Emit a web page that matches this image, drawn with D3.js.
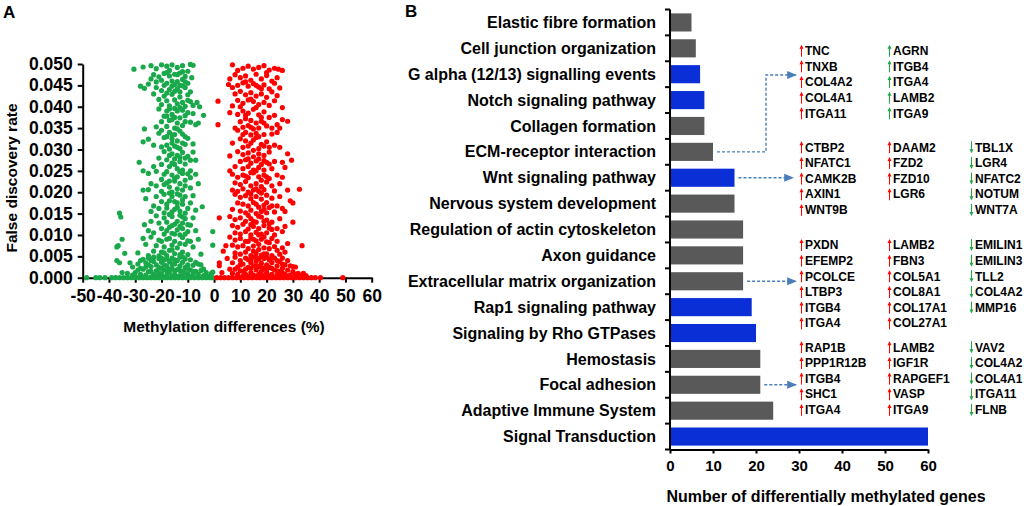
<!DOCTYPE html>
<html>
<head>
<meta charset="utf-8">
<script src="https://cdn.jsdelivr.net/npm/d3@7"></script>
<style>
body{margin:0;background:#fff;}
text{font-family:Arial,"Liberation Sans",sans-serif;font-weight:bold;fill:#000;}
</style>
</head>
<body>
<div id="chart"></div>
<script>
// ---- panel A data: [methylation difference %, FDR x 10^-3] ----
var greenPts = [
[-30.5,48.8],[-28,44.8],[-26.5,44.3],[-27,49.3],[-24,49.6],[-22,48.9],[-20,49.8],[-18,49.5],[-16,49.8],[-14,49.2],[-12,49.6],[-9,49.9],[-8,49.7],
[-23,47.5],[-21,47],[-19,47.8],[-17,47.2],[-15,47.6],[-13,47.9],[-11,47.1],[-10,48.3],[-22,45.8],[-20,46.2],[-18,45.5],[-16,46],[-14,45.9],
[-12,46.4],[-10,45.5],[-8.5,46.8],[-24,46.5],[-19,45],[-15,45.2],[-13,45],[-17,48.5],[-11,45.8],[-25,45.3],
[-22,44.5],[-20,43.8],[-17,44],[-14,44.2],[-11,44.5],[-9,43.5],[-19,42.5],[-16,42.9],[-13,42.3],[-10,42.8],[-21,41.7],[-18,41.4],[-15,41.6],
[-12,41],[-9,41.2],[-20,40.5],[-17,40.2],[-14,40.7],[-11,40.1],[-8,40.3],[-6.5,41],[-5.5,40],[-23,43],[-15,43.6],[-12,44.9],
[-21,39.5],[-18,39],[-15,39.6],[-12,39.2],[-10,38.6],[-19,37.8],[-16,38.2],[-13,37.4],[-11,37.9],[-8,38.4],[-4,38],[-20,36.5],[-17,36.8],
[-14,36.2],[-12,35.6],[-9,36.4],[-7,35.8],[-26.5,34.8],[-22,35.3],[-18,35.4],[-15,35],[-6,36.2],[-16,37],[-13,39.8],
[-20,34.5],[-17,34],[-15,33.5],[-13,34.3],[-11,33],[-19,32.8],[-16,32.5],[-14,32],[-12,31.5],[-10,32.6],[-18,31],[-15,30.8],[-13,30.2],
[-21,33.8],[-27,31.8],[-25,32.4],[-23,31],[-8,31.3],[-17,30.1],[-20,30.6],
[-19,29.5],[-16,29],[-14,28.6],[-12,29.3],[-10,28.4],[-18,27.6],[-15,27.8],[-13,27.2],[-11,26.6],[-9,27.5],[-7,27.5],[-21,28],[-28.5,27],
[-17,26],[-14,25.5],[-12,25.2],[-16,26.8],[-23,26],[-9,25],[-8,29.4],[-20,26.5],
[-27,25],[-25,24.4],[-22,24.9],[-19,24.2],[-16,24],[-14,23.6],[-12,24.4],[-10,24.3],[-7,24.2],[-20,23],[-18,22.2],[-15,22.6],[-13,22],
[-11,22.8],[-24,22],[-22,21.5],[-17,21.2],[-14,20.8],[-12,20.5],[-9,21],[-27,20.5],[-25,20.6],[-20,20.2],[-16,20],[-6,22],[-9,23.4],
[-26,18.5],[-22,19],[-19,19.5],[-16,19],[-13,19.3],[-11,19],[-8,19.2],[-20,17.8],[-17,18],[-14,17.5],[-12,17.2],[-9,17.5],[-23,16.8],
[-21,16.2],[-18,16.3],[-15,16],[-13,15.6],[-10,16.2],[-7,15.8],[-4.5,16.6],[-24,15.5],[-19,15.2],[-16,15.4],[-36,15.1],[-35.5,14.2],[-11,15.1],
[-22,14.5],[-19,14],[-16,14.3],[-13,14.6],[-11,13.8],[-8,14],[-24,13.2],[-21,12.8],[-18,13],[-15,12.5],[-12,12.8],[-9,12.3],[-26.5,12.4],
[-20,11.5],[-17,11.8],[-14,11.2],[-12,11.5],[-10,10.8],[-7,11],[-23,10.5],[-19,10.2],[-16,10.4],[-13,10],[-11,10.2],[-35,9],[-0.5,10.8],[-25,11],
[-27,9.2],[-24,9.5],[-21,8.8],[-18,9],[-15,8.5],[-12,9.4],[-9,8.5],[-6,9],[-36.5,7.5],[-37,7.2],[-26,7.8],[-22,7.5],[-19,7.2],[-16,7.6],
[-14,7],[-11,7.8],[-8,7.2],[-0.5,7.6],[-23,6.2],[-20,6],[-17,6.4],[-15,5.6],[-12,6],[-10,5.4],[-5,5.5],[-29,5.8],[-25,5.2],[-34,5.7],[-18,5.2],[-21,5.1],
[-33,1],[-31,2.5],[-30,1.2],[-29,3.2],[-28,0.8],[-27,2],[-26,3.5],[-25,1.4],[-24,4],[-24,2.6],[-23,0.7],[-22,3],[-22,1.6],[-21,4.5],[-21,2.4],
[-20,0.9],[-20,3.6],[-19,1.8],[-19,4.2],[-18,2.8],[-18,0.6],[-17,3.8],[-17,1.3],[-16,2.2],[-16,4.6],[-15,0.8],[-15,3.2],[-14,1.9],[-14,4],
[-13,2.8],[-13,0.5],[-12,3.6],[-12,1.5],[-11,2.4],[-11,4.4],[-10,0.9],[-10,3],[-9,1.8],[-8,2.9],[-8,0.6],[-7,1.5],[-6,3.2],[-6,0.8],[-5,1.7],
[-4,0.5],[-3,1.2],[-2,0.4],[-1,1],[-23,3.8],[-25,3],[-27,4.3],[-18,1.6],[-20,2.2],[-16,0.4],[-14,0.3],[-12,0.3],[-22,0.4],[-26,0.6],[-30,0.3],
[-35,1.2],[-36,3.5],[-37,4],[-16,3.2],[-13,4.8],[-9,4.2],[-11,1.2],[-28,2.2],[-19,3],[-0.5,1.3],
[-18,48],[-14,47.5],[-12,48.2],[-16,44.8],[-18,43.2],[-13,43.5],[-10,41.5],[-14,39],[-17,39.5],[-11,36.5],[-15,37.5],[-18,37.8],[-14,34.8],
[-16,33.4],[-12,33.6],[-18,33],[-14,30.5],[-11,31.2],[-16,31.5],[-17,28.6],[-13,28.2],[-15,26.5],[-11,28],[-18,24.8],[-15,23.2],[-13,24.8],
[-17,22.6],[-19,21.8],[-11,21.5],[-14,19.6],[-17,19.8],[-12,18.2],[-15,17.8],[-18,17.2],[-14,16.5],[-17,14.8],[-14,13.2],[-12,14.2],[-16,12.2],
[-10,12.4],[-13,12],[-18,11],[-15,10.2],[-17,9.2],[-13,8],[-10,8.6],[-20,8.5],[-16,6.5],[-13,5.4],[-19,5.8],[-23,4.8],[-20,4.6],[-18,4.4],
[-15,4.2],[-12,4.9],[-26,2.5],[-24,1.5],[-21,1.2],[-17,2],[-15,1.6],[-13,1.7],[-10,2.2],[-8,1.5],[-7,3.6],[-29,1.8],[-31,0.6],[-20,0.3],
[-18,0.2],[-24,0.2],[-9,0.3],[-5,3],[-4,2],[-32,3.5],[-28,4],[-25,4.6],
[-48.5,0],[-45,0],[-43.5,0],[-41.5,0],[-39,0],[-37.5,0],[-36,0],[-34.5,0],[-33,0],[-31.5,0],[-30,0],[-28.5,0],[-27,0],[-25.5,0],[-24,0],
[-22.5,0],[-21,0],[-19.5,0],[-18,0],[-16.5,0],[-15,0],[-13.5,0],[-12,0],[-10.5,0],[-9,0],[-7.5,0],[-6,0],[-4.5,0],[-3,0],[-1.5,0],[-0.5,0]
];
var redPts = [
[7,49.8],[9,48.5],[11,49],[13,49.5],[15,48.8],[17,49.2],[19,49.6],[21,48.6],[23,49],[24.5,48.8],[26,48.5],[6,46.5],[8,47.5],[10,46.8],
[12,47.2],[14,46.2],[16,47.6],[18,46.5],[20,47.3],[22,46],[24,46.8],[5.5,45.2],[9,45],[11,45.6],[13,44.8],[15,45.4],[17,44.6],[19,45.1],
[21,44.2],[23,45.5],[25,44.4],[7,44.5],[20,48],
[8,43],[10,43.6],[12,42.8],[14,43.3],[16,42.5],[18,43],[20,42.2],[22,43.5],[24,42.6],[9,41.5],[11,40.8],[13,41.6],[15,41.2],[17,40.5],
[19,41],[21,40.3],[23,41.4],[26,39.8],[7,40.2],[1.5,41.3],
[6,38.6],[9,38.2],[11,39],[13,38.5],[15,39.4],[17,38.1],[19,38.8],[21,37.5],[23,38],[26,37],[10,36.5],[12,37.2],[14,36.8],[16,36.2],
[18,36.6],[20,35.5],[24,35.8],[28,36.6],[8,35],[11,35.2],[13,35.6],[15,34.8],[17,35],[1.5,35.8],[25,35],
[9,34.5],[12,34],[14,33.4],[16,33.8],[19,33.5],[22,33.6],[24,34],[10,32.5],[12,32],[14,31.5],[16,32.8],[18,31.2],[20,31.8],[23,31],
[25,30.5],[7,31.5],[11,30.5],[13,30.8],[17,30.2],[21,30.5],
[6,28.5],[9,29.5],[11,28.8],[13,29.2],[15,28.3],[17,29],[19,28.6],[21,29.4],[28,29],[10,27.2],[12,27.6],[14,26.8],[16,27.3],[18,26.5],
[20,27],[23,27.2],[26,27],[29.5,27.5],[8,26],[11,25.5],[13,26],[15,25.2],[17,25.8],[19,25.2],[22,25.5],[27,25.8],[6,25],
[7,24.2],[9,23.5],[11,24],[13,23.4],[15,24.5],[17,23.6],[19,24],[21,23.2],[24,24],[26,23.5],[8,22.2],[10,21.8],[12,22.5],[14,21.5],
[16,22],[18,21.3],[20,22.4],[22,21.5],[25,22],[7,20.5],[9,20.2],[11,20.8],[13,20],[15,20.5],[17,20.2],[19,20.6],[23,20.3],[28,20.5],[32.5,20.7],
[8,19.5],[10,18.8],[12,19.2],[14,18.5],[16,19],[18,18.4],[20,19.3],[22,18.6],[25,19],[29,18],[30,17.5],[9,17.5],[11,17.2],[13,16.8],
[15,17.6],[17,16.5],[19,17],[21,16.4],[24,16.8],[26,16.2],[7,16],[10,15.6],[12,15.2],[14,15.8],[16,15],[18,15.5],[20,15.2],[23,15.4],[27,15.5],
[2,14],[6,14.3],[8,13.6],[10,14],[12,13.2],[14,13.8],[16,13],[18,14.2],[20,13.5],[22,13],[25,13.8],[30,13],[7,12.2],[9,11.8],[11,12.5],
[13,11.4],[15,12],[17,11.5],[19,12.2],[21,11.6],[24,11.5],[27,12],[8,10.5],[10,10.2],[12,10.8],[14,10],[16,10.6],[18,10.2],[20,10.5],[23,10],[26,10.8],
[6,9.5],[8,8.8],[10,9.2],[12,8.5],[14,9.3],[16,8.6],[18,9],[20,8.4],[22,9.2],[24,8.5],[28,8],[4.5,7.5],[7,7.6],[9,7.2],[11,7.5],[13,6.8],
[15,7.4],[17,6.6],[19,7],[21,6.8],[23,7.3],[26,7],[33.5,7.5],[3.5,6.2],[8,5.8],[10,5.5],[12,6],[14,5.2],[16,5.8],[18,5.3],[20,5.6],[22,5.2],[25,5.5],[27,6],
[5,4.5],[7,3.5],[8,4.8],[9,2.5],[10,4],[11,1.5],[11,3.2],[12,4.6],[12,0.8],[13,2.4],[13,4.2],[14,1.2],[14,3.5],[15,2.8],[15,0.6],[15,4.8],
[16,1.8],[16,3.8],[17,0.8],[17,2.6],[17,4.4],[18,1.5],[18,3.4],[19,2.2],[19,4.5],[19,0.5],[20,1.2],[20,3],[21,2.4],[21,4.2],[22,0.8],[22,3.5],
[23,1.8],[23,4.6],[24,2.8],[24,0.6],[25,1.5],[25,3.8],[26,2.2],[27,0.8],[27,3],[28,1.8],[29,2.8],[29,0.6],[30,1.4],[31,2.5],[32,1],[33,0.4],
[34,1],[35,0.5],[2,3.5],[2,2.8],[3,1.2],[6,2],[9,0.8],[7,1],[26,4.6],[10,1.6],[16,0.3],[20,4.8],[13,0.3],
[12,45.8],[16,45],[18,44.2],[14,41.8],[10,40],[16,39.8],[12,38],[18,37.5],[14,35.2],[22,35],[19,36.2],[17,33],[11,33.5],[15,32.2],[19,30.8],
[15,29.8],[13,27.8],[17,27.8],[19,27.4],[21,26.6],[16,25],[14,24.6],[12,23.8],[18,22.8],[20,23.6],[16,20.8],[14,19.6],[18,19.8],[20,17.6],
[22,16.8],[16,17.2],[19,16],[13,14.6],[17,14.4],[15,13.2],[19,13.2],[21,12.6],[14,12.4],[17,10],[22,11.3],[15,9],[19,9.5],[13,8.5],[17,7.8],
[21,8.2],[15,6.2],[19,5.6],[24,6.4],[14,4.2],[16,4.8],[18,4.9],[22,4.6],[20,2],[18,2.5],[16,2.7],[14,2.2],[24,4],[26,3.2],[28,4],[12,2],
[10,3],[8,2],[22,2.2],[24,1.6],[26,1.2],[31,0.8],[11,0.4],[21,0.4],[18,0.3],[25,0.3],[30,2.6],[28,0.4],
[1,0],[2.5,0],[4,0],[5.5,0],[7,0],[8.5,0],[10,0],[11.5,0],[13,0],[14.5,0],[16,0],[17.5,0],[19,0],[20.5,0],[22,0],[23.5,0],[25,0],[26.5,0],
[28,0],[29.5,0],[31,0],[32.5,0],[34,0],[35.5,0],[37,0],[38.5,0],[40.5,0],[49,0]
];
var diffTicks = [-50,-40,-30,-20,-10,0,10,20,30,40,50,60];
var diffTickLabels = ["-50","-40","-30","-20","-10","0","10","20","30","40","50","60"];
var fdrTicks = [0,5,10,15,20,25,30,35,40,45,50];
var fdrTickLabels = ["0.000","0.005","0.010","0.015","0.020","0.025","0.030","0.035","0.040","0.045","0.050"];

// ---- panel B data ----
var pathways = ["Elastic fibre formation","Cell junction organization","G alpha (12/13) signalling events","Notch signaling pathway",
  "Collagen formation","ECM-receptor interaction","Wnt signaling pathway","Nervous system development",
  "Regulation of actin cytoskeleton","Axon guidance","Extracellular matrix organization","Rap1 signaling pathway",
  "Signaling by Rho GTPases","Hemostasis","Focal adhesion","Adaptive Immune System","Signal Transduction"];
var geneCounts = [5,6,7,8,8,10,15,15,17,17,17,19,20,21,21,24,60];
var bluePathways = ["G alpha (12/13) signalling events","Notch signaling pathway","Wnt signaling pathway",
  "Rap1 signaling pathway","Signaling by Rho GTPases","Signal Transduction"];
var countTicks = [0,10,20,30,40,50,60];

var ecmRecUp = ["TNC","TNXB","COL4A2","COL4A1","ITGA11"];
var ecmRecUp2 = ["AGRN","ITGB4","ITGA4","LAMB2","ITGA9"];
var wntUp = ["CTBP2","NFATC1","CAMK2B","AXIN1","WNT9B"];
var wntUp2 = ["DAAM2","FZD2","FZD10","LGR6"];
var wntDown = ["TBL1X","LGR4","NFATC2","NOTUM","WNT7A"];
var ecmOrgUp = ["PXDN","EFEMP2","PCOLCE","LTBP3","ITGB4","ITGA4"];
var ecmOrgUp2 = ["LAMB2","FBN3","COL5A1","COL8A1","COL17A1","COL27A1"];
var ecmOrgDown = ["EMILIN1","EMILIN3","TLL2","COL4A2","MMP16"];
var focalUp = ["RAP1B","PPP1R12B","ITGB4","SHC1","ITGA4"];
var focalUp2 = ["LAMB2","IGF1R","RAPGEF1","VASP","ITGA9"];
var focalDown = ["VAV2","COL4A2","COL4A1","ITGA11","FLNB"];

var RED = "#ff0000", GREEN = "#19a84a", GREY = "#595959", BLUE = "#0b2fd6", LINK = "#4a7ebb";

var svg = d3.select("#chart").append("svg")
    .attr("width",1024)
    .attr("height",506);

// ================= panel A =================
var xA = d3.scaleLinear().domain([-50,60]).range([82.7,371.7]);
var yA = d3.scaleLinear().domain([0,50]).range([277.7,64]);

var axA = svg.append("g").attr("transform","translate(0,277.7)")
    .call(d3.axisBottom(xA).tickValues(diffTicks).tickSize(5).tickSizeOuter(0).tickPadding(7)
        .tickFormat(function(d,i){return diffTickLabels[i];}));
var ayA = svg.append("g").attr("transform","translate(82.7,0)")
    .call(d3.axisLeft(yA).tickValues(fdrTicks).tickSize(5).tickSizeOuter(0).tickPadding(5)
        .tickFormat(function(d,i){return fdrTickLabels[i];}));
axA.selectAll("text").style("font-size","17.5px");
ayA.selectAll("text").style("font-size","17.5px");

svg.append("g").selectAll("circle")
    .data(greenPts).enter().append("circle")
    .attr("cx",function(d){return xA(d[0]);})
    .attr("cy",function(d){return yA(d[1]);})
    .attr("r",2.6)
    .style("fill",GREEN);
svg.append("g").selectAll("circle")
    .data(redPts).enter().append("circle")
    .attr("cx",function(d){return xA(d[0]);})
    .attr("cy",function(d){return yA(d[1]);})
    .attr("r",2.6)
    .style("fill",RED);

svg.append("text").attr("x",224).attr("y",332).style("text-anchor","middle")
    .style("font-size","15.5px").text("Methylation differences (%)");
svg.append("text").attr("transform","translate(17,178) rotate(-90)").style("text-anchor","middle")
    .style("font-size","15.5px").text("False discovery rate");
svg.append("text").attr("x",3).attr("y",18).style("font-size","17px").text("A");

// ================= panel B =================
var xB = d3.scaleLinear().domain([0,60]).range([670,928]);
var yB = d3.scaleBand().domain(pathways).range([9.5,449.5]).paddingInner(0.3).paddingOuter(0.15);
var step = yB.step();
function mid(p){return yB(p)+yB.bandwidth()/2;}

svg.append("g").selectAll("rect")
    .data(pathways).enter().append("rect")
    .attr("x",xB(0)+1)
    .attr("y",function(d){return yB(d);})
    .attr("width",function(d,i){return xB(geneCounts[i])-xB(0)-1;})
    .attr("height",yB.bandwidth())
    .style("fill",function(d){return bluePathways.indexOf(d)>=0 ? BLUE : GREY;});

svg.append("g").selectAll("text")
    .data(pathways).enter().append("text")
    .attr("x",656)
    .attr("y",function(d){return mid(d);})
    .attr("dy","0.35em")
    .style("text-anchor","end")
    .style("font-size","16px")
    .text(function(d){return d;});

var axB = svg.append("g").attr("transform","translate(0,449.5)")
    .call(d3.axisBottom(xB).tickValues(countTicks).tickSize(4).tickSizeOuter(0).tickPadding(7).tickFormat(d3.format("d")));
axB.selectAll("text").style("font-size","15px");

// y axis with ticks on the category boundaries
svg.append("line").attr("x1",670).attr("x2",670).attr("y1",9.5).attr("y2",449.5).attr("class","ax");
svg.append("g").selectAll("line")
    .data(d3.range(pathways.length+1)).enter().append("line")
    .attr("x1",665).attr("x2",670)
    .attr("y1",function(i){return 9.5+i*step;})
    .attr("y2",function(i){return 9.5+i*step;})
    .attr("class","ax");

svg.append("text").attr("x",826).attr("y",502).style("text-anchor","middle")
    .style("font-size","16px").text("Number of differentially methylated genes");
svg.append("text").attr("x",405).attr("y",17).style("font-size","17px").text("B");

svg.selectAll(".domain, .tick line, .ax").style("stroke","#000").style("stroke-width",2);

// dashed links from bars to gene lists
svg.append("defs").append("marker")
    .attr("id","head").attr("viewBox","0 0 10 10").attr("refX",9).attr("refY",5)
    .attr("markerWidth",7).attr("markerHeight",7).attr("orient","auto")
    .append("path").attr("d","M0,1L10,5L0,9Z").style("fill",LINK);

var groups = [
  {from:"ECM-receptor interaction", count:10, top:50.7, elbow:[766,75], tip:796,
   cols:[[ecmRecUp,"up",RED],[ecmRecUp2,"up",GREEN]]},
  {from:"Wnt signaling pathway", count:15, top:147.3, tip:793,
   cols:[[wntUp,"up",RED],[wntUp2,"up",RED],[wntDown,"down",GREEN]]},
  {from:"Extracellular matrix organization", count:17, top:245, tip:796,
   cols:[[ecmOrgUp,"up",RED],[ecmOrgUp2,"up",RED],[ecmOrgDown,"down",GREEN]]},
  {from:"Focal adhesion", count:21, top:347.3, tip:796,
   cols:[[focalUp,"up",RED],[focalUp2,"up",RED],[focalDown,"down",GREEN]]}
];
var colX = [805, 893, 975];
var rowGap = 15.65;

groups.forEach(function(g){
  var y0 = mid(g.from), x0 = xB(g.count)+4;
  var pts = g.elbow ? [[x0,y0],[g.elbow[0],y0],[g.elbow[0],g.elbow[1]],[g.tip,g.elbow[1]]] : [[x0,y0],[g.tip,y0]];
  svg.append("path").attr("d",d3.line()(pts))
    .style("fill","none").style("stroke",LINK).style("stroke-width",1.4)
    .style("stroke-dasharray","3,2").attr("marker-end","url(#head)");

  g.cols.forEach(function(c,ci){
    c[0].forEach(function(gene,ri){
      var cy = g.top + ri*rowGap, ax = colX[ci]-3.5;
      var a = svg.append("g").style("stroke",c[2]).style("fill",c[2]);
      if(c[1]=="up"){
        a.append("line").attr("x1",ax).attr("x2",ax).attr("y1",cy+6).attr("y2",cy-3).style("stroke-width",1);
        a.append("path").attr("d","M"+(ax-2)+","+(cy-2)+"L"+ax+","+(cy-6)+"L"+(ax+2)+","+(cy-2)+"Z").style("stroke","none");
      } else {
        a.append("line").attr("x1",ax).attr("x2",ax).attr("y1",cy-6).attr("y2",cy+3).style("stroke-width",1);
        a.append("path").attr("d","M"+(ax-2)+","+(cy+2)+"L"+ax+","+(cy+6)+"L"+(ax+2)+","+(cy+2)+"Z").style("stroke","none");
      }
      svg.append("text").attr("x",colX[ci]).attr("y",cy).attr("dy","0.35em")
        .style("font-size","12px").text(gene);
    });
  });
});
</script>
</body>
</html>
